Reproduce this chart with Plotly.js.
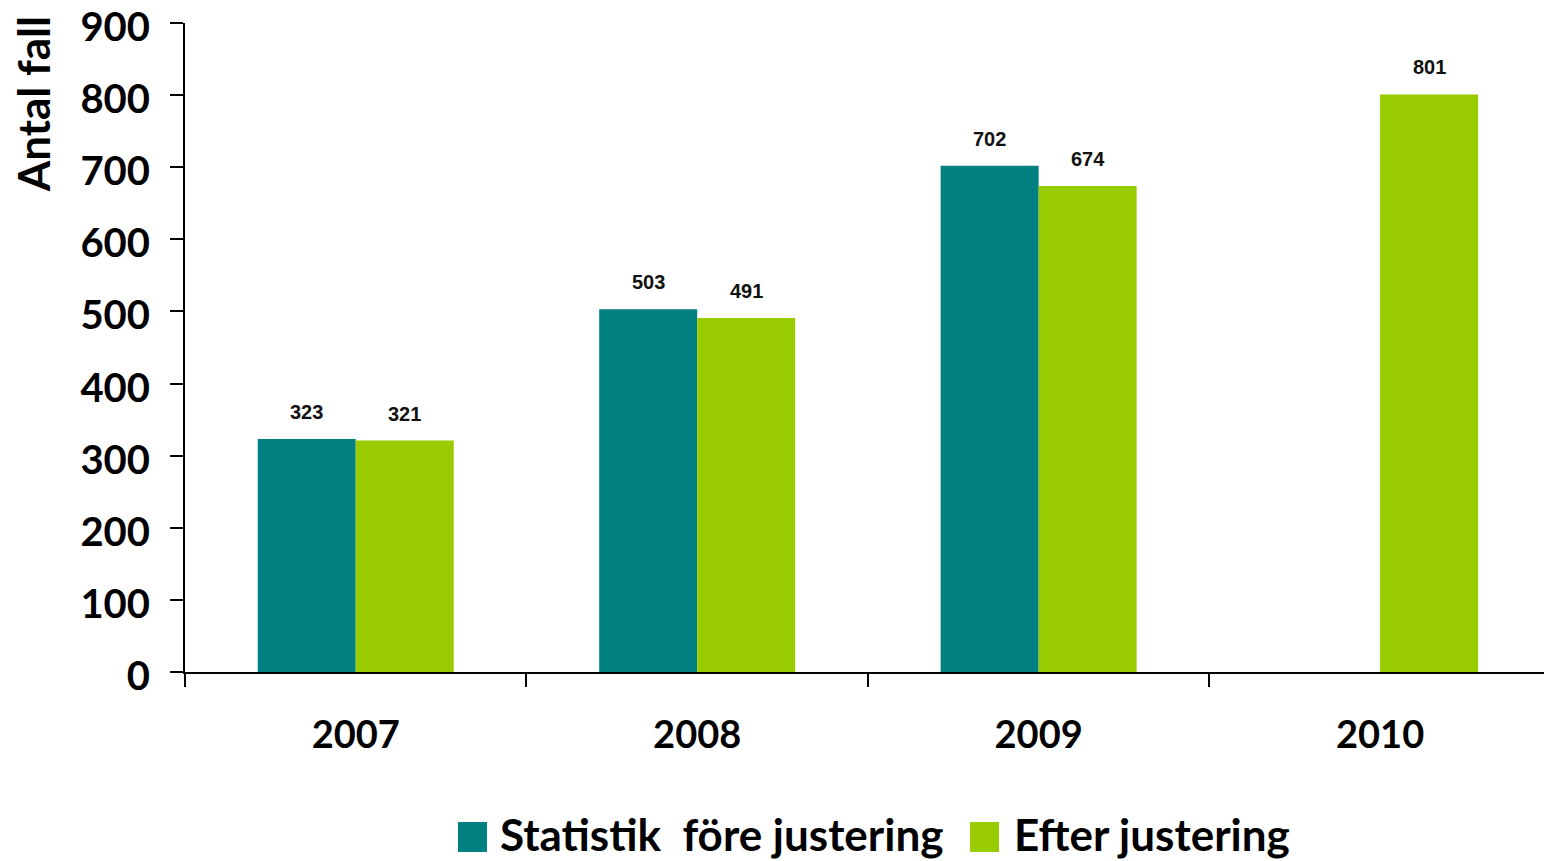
<!DOCTYPE html>
<html>
<head>
<meta charset="utf-8">
<script src="https://cdn.plot.ly/plotly-3.0.1.min.js"></script>
<style>html,body{margin:0;padding:0;background:#fff;}#chart{width:1544px;height:861px;}</style>
</head>
<body>
<div id="chart"></div>
<script>
var years = ['2007', '2008', '2009', '2010'];
var foreJustering = [323, 503, 702, null];
var efterJustering = [321, 491, 674, 801];
var seriesNames = ['Statistik\u00a0\u00a0före justering', 'Efter justering'];
var yTitle = 'Antal fall';
var colors = ['#008080', '#99CC00'];

var FONT = 'Lato, "Open Sans", sans-serif';
var series = [foreJustering, efterJustering];

var traces = series.map(function (vals, i) {
  return {
    type: 'bar',
    x: years,
    y: vals,
    name: seriesNames[i],
    marker: { color: colors[i] },
    hoverinfo: 'x+y'
  };
});

var annotations = [];
series.forEach(function (vals, i) {
  vals.forEach(function (v, j) {
    if (v === null) return;
    annotations.push({
      x: j, y: v, xref: 'x', yref: 'y',
      text: '<b>' + String(v) + '</b>', showarrow: false,
      xshift: i === 0 ? -49 : 49, yshift: 27, yanchor: 'middle',
      font: { family: '"Liberation Sans", Arial, sans-serif', size: 20, color: '#111' }
    });
  });
});

// y axis title (top aligned like the reference)
annotations.push({
  x: -0.112, y: 1.013, xref: 'paper', yref: 'paper',
  text: '<b>' + yTitle + '</b>', textangle: -90, showarrow: false,
  xanchor: 'center', yanchor: 'top',
  font: { family: FONT, size: 44, color: '#000' }
});

// custom legend
var legendX = [[0.2009, 0.2222, 0.2303], [0.5776, 0.5990, 0.6085]];
var shapes = [];
seriesNames.forEach(function (n, i) {
  shapes.push({
    type: 'rect', xref: 'paper', yref: 'paper',
    x0: legendX[i][0], x1: legendX[i][1], y0: -0.2311, y1: -0.2773,
    fillcolor: colors[i], line: { width: 0 }
  });
  annotations.push({
    x: legendX[i][2], y: -0.2496, xref: 'paper', yref: 'paper',
    text: '<b>' + n + '</b>', showarrow: false, xanchor: 'left', yanchor: 'middle',
    font: { family: FONT, size: 44, color: '#000' }
  });
});

var layout = {
  width: 1544, height: 861,
  margin: { l: 185, r: 0, t: 23, b: 189, pad: 0 },
  paper_bgcolor: '#fff', plot_bgcolor: '#fff',
  barmode: 'group', bargap: 0.426, bargroupgap: 0,
  showlegend: false,
  font: { family: FONT, color: '#000' },
  xaxis: {
    type: 'category', range: [-0.5, 3.48],
    showline: true, linecolor: '#000', linewidth: 2,
    ticks: 'outside', tickson: 'boundaries', ticklen: 13, tickwidth: 2, tickcolor: '#000',
    ticklabelstandoff: 28,
    tickfont: { family: FONT, size: 38, color: '#000', weight: 'bold' },
    showgrid: false, zeroline: false
  },
  yaxis: {
    range: [0, 900], dtick: 100, tick0: 0,
    showline: true, linecolor: '#000', linewidth: 2,
    ticks: 'outside', ticklen: 13, tickwidth: 2, tickcolor: '#000',
    ticklabelstandoff: 12, ticklabelshift: 4, ticklabeloverflow: 'allow',
    tickfont: { family: FONT, size: 40, color: '#000', weight: 'bold' },
    showgrid: false, zeroline: false
  },
  annotations: annotations,
  shapes: shapes
};

Plotly.newPlot('chart', traces, layout, { displayModeBar: false, staticPlot: true });
</script>
</body>
</html>
